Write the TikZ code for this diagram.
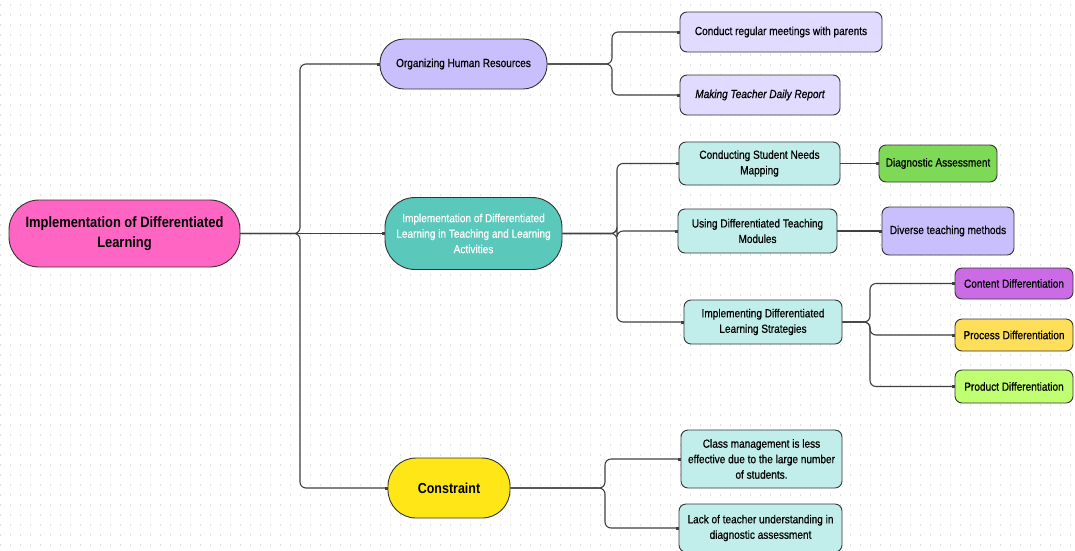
\documentclass[tikz,border=0pt]{standalone}
\usepackage{fontspec}
\setmainfont{Liberation Sans}[FakeStretch=0.86,
  UprightFeatures={FakeBold=0.6}, ItalicFeatures={FakeBold=0.6}]
\usetikzlibrary{arrows.meta, positioning}

\definecolor{rootpink}{HTML}{FF66C4}
\definecolor{lavender}{HTML}{C9BFFD}
\definecolor{palelav}{HTML}{E1DCFF}
\definecolor{tealbox}{HTML}{5BC8BC}
\definecolor{paleteal}{HTML}{C1EEEA}
\definecolor{diaggreen}{HTML}{7ED957}
\definecolor{contentpurple}{HTML}{CB6CE6}
\definecolor{processyellow}{HTML}{FFDE59}
\definecolor{productlime}{HTML}{C1FF72}
\definecolor{constryellow}{HTML}{FFE617}

\tikzset{
  box/.style={draw=black!80, line width=0.9pt, align=center, inner sep=0pt,
    font=\fontsize{11.7}{15.5}\selectfont},
  pill/.style={box, rounded corners=#1},
  pill/.default=24pt,
  leaf/.style={box, rounded corners=7pt},
  link/.style={draw=black!75, line width=1.1pt, rounded corners=6pt,
    -{Square[open, length=3pt, width=3pt]}},
}

\begin{document}
\begin{tikzpicture}[x=1pt, y=-1pt]

  % Canvas with dotted grid
  \useasboundingbox (0,0) rectangle (1075,550);
  \fill[white] (0,0) rectangle (1075,550);
  \foreach \r in {5,15,...,545}
    \draw[gray!25, line width=1.3pt, dash pattern=on 1.3pt off 8.7pt] (0,\r) -- (1075,\r);

  % Bus positions
  \coordinate (trunk) at (300,0);
  \coordinate (orgbus) at (612,0);
  \coordinate (teachbus) at (617,0);
  \coordinate (stratbus) at (870,0);
  \coordinate (constrbus) at (605,0);

  % === Root
  \node[pill=30pt, fill=rootpink, minimum width=231, minimum height=67,
    font=\fontsize{15}{20}\selectfont\bfseries] (root) at (124.5,233.5)
    {Implementation of Differentiated\\Learning};

  % === First level
  \node[pill, fill=lavender, minimum width=167, minimum height=50] (org) at (463.5,64)
    {Organizing Human Resources};
  \node[pill=30pt, fill=tealbox, text=white, minimum width=177, minimum height=72] (teach) at (473.5,233.5)
    {Implementation of Differentiated\\Learning in Teaching and Learning\\Activities};
  \node[pill=28pt, fill=constryellow, minimum width=122, minimum height=60,
    font=\fontsize{14.5}{17}\selectfont\bfseries] (constr) at (449,488)
    {Constraint};

  % === Human resources
  \node[leaf, fill=palelav, minimum width=202, minimum height=40] (meet) at (781,32)
    {Conduct regular meetings with parents};
  \node[leaf, fill=palelav, minimum width=160, minimum height=40] (report) at (760,95)
    {\itshape Making Teacher Daily Report};

  % === Teaching and learning
  \node[leaf, fill=paleteal, minimum width=161, minimum height=43] (mapping) at (759.5,163.5)
    {Conducting Student Needs\\Mapping};
  \node[leaf, fill=diaggreen, minimum width=118, minimum height=37] (diag) at (938,163.5)
    {Diagnostic Assessment};
  \node[leaf, fill=paleteal, minimum width=159, minimum height=44] (modules) at (757.5,231)
    {Using Differentiated Teaching\\Modules};
  \node[leaf, fill=lavender, minimum width=132, minimum height=48] (methods) at (948,231)
    {Diverse teaching methods};
  \node[leaf, fill=paleteal, minimum width=158, minimum height=44] (strat) at (763,322)
    {Implementing Differentiated\\Learning Strategies};
  \node[leaf, fill=contentpurple, minimum width=118, minimum height=31] (content) at (1014,283.5)
    {Content Differentiation};
  \node[leaf, fill=processyellow, minimum width=118, minimum height=32] (process) at (1014,335)
    {Process Differentiation};
  \node[leaf, fill=productlime, minimum width=118, minimum height=33] (product) at (1014,386.5)
    {Product Differentiation};

  % === Constraints
  \node[leaf, fill=paleteal, minimum width=161, minimum height=58] (classm) at (761.5,459)
    {Class management is less\\effective due to the large number\\of students.};
  \node[leaf, fill=paleteal, minimum width=163, minimum height=48] (lack) at (760.5,528)
    {Lack of teacher understanding in\\diagnostic assessment};

  % === Connectors
  \draw[link] (root.east) -- (root.east -| trunk) |- (org.west);
  \draw[link, line width=1.6pt] (root.east) -- (teach.west);
  \draw[link] (root.east) -- (root.east -| trunk) |- (constr.west);

  \draw[link] (org.east) -- (org.east -| orgbus) |- (meet.west);
  \draw[link] (org.east) -- (org.east -| orgbus) |- (report.west);

  \draw[link] (teach.east) -- (teach.east -| teachbus) |- (mapping.west);
  \draw[link] (teach.east) -- (teach.east -| teachbus) |- (modules.west);
  \draw[link] (teach.east) -- (teach.east -| teachbus) |- (strat.west);

  \draw[link] (mapping.east) -- (diag.west);
  \draw[link] (modules.east) -- (methods.west);

  \draw[link] (strat.east) -- (strat.east -| stratbus) |- (content.west);
  \draw[link] (strat.east) -- (strat.east -| stratbus) |- (process.west);
  \draw[link] (strat.east) -- (strat.east -| stratbus) |- (product.west);

  \draw[link] (constr.east) -- (constr.east -| constrbus) |- (classm.west);
  \draw[link] (constr.east) -- (constr.east -| constrbus) |- (lack.west);

\end{tikzpicture}
\end{document}
